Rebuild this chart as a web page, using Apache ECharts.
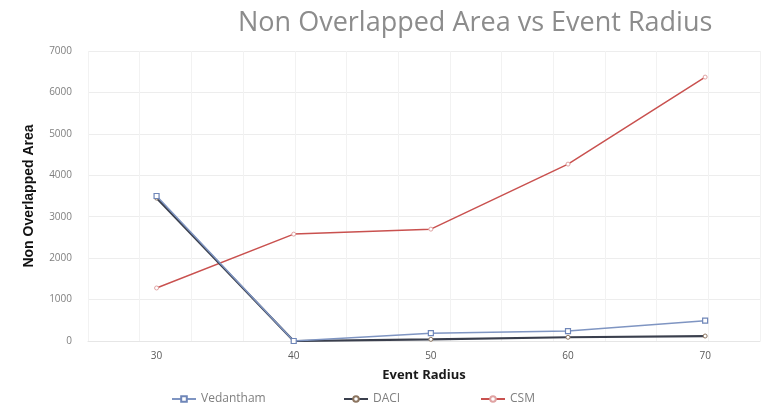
<!DOCTYPE html>
<html>
<head>
<meta charset="utf-8">
<script src="https://cdn.jsdelivr.net/npm/echarts@6/dist/echarts.min.js"></script>
<style>
  html, body { margin: 0; padding: 0; background: #ffffff; }
  #chart { width: 766px; height: 403px; }
</style>
</head>
<body>
<div id="chart"></div>
<script>
// Event radius values on the x axis
const radius = [30, 40, 50, 60, 70];
const xTicks = [30, 40, 50, 60, 70];
const yTicks = [0, 1000, 2000, 3000, 4000, 5000, 6000, 7000];

// Non overlapped area for each method
const vedantham = [3500, 0, 190, 240, 490];
const daci = [3450, 0, 40, 90, 120];
const csm = [1280, 2580, 2700, 4270, 6370];

const pair = (vals) => radius.map((r, i) => [r, vals[i]]);

const chart = echarts.init(document.getElementById('chart'));

const legendText = { color: '#7f7f7f', fontSize: 12, fontFamily: 'Open Sans' };

chart.setOption({
  backgroundColor: '#ffffff',
  animation: false,
  title: {
    text: 'Non Overlapped Area vs Event Radius',
    left: 233,
    top: 5,
    textStyle: { color: '#8c8c8c', fontSize: 27, fontWeight: 'normal', fontFamily: 'Open Sans' }
  },
  legend: [
    { data: ['Vedantham'], left: 166, top: 388, itemWidth: 24, itemHeight: 7, itemGap: 4, textStyle: legendText },
    { data: ['DACI'], left: 338, top: 388, itemWidth: 24, itemHeight: 7, textStyle: legendText },
    { data: ['CSM'], left: 475, top: 388, itemWidth: 24, itemHeight: 7, textStyle: legendText }
  ],
  grid: { left: 88, right: 6, top: 51, bottom: 62, containLabel: false },
  xAxis: [
    {
      type: 'value',
      min: 25,
      max: 74,
      name: 'Event Radius',
      nameLocation: 'middle',
      nameGap: 28,
      nameTextStyle: { color: '#1a1a1a', fontSize: 13, fontWeight: 'bold', fontFamily: 'Open Sans' },
      axisLine: { show: true, lineStyle: { color: '#e6e6e6' } },
      axisTick: { show: false },
      splitLine: { show: false },
      axisLabel: {
        customValues: xTicks,
        color: '#595959',
        fontSize: 10,
        margin: 10,
        fontFamily: 'Open Sans'
      }
    },
    {
      // faint vertical guide lines behind the data
      type: 'value',
      min: 0,
      max: 13,
      interval: 1,
      position: 'bottom',
      axisLine: { show: false },
      axisTick: { show: false },
      axisLabel: { show: false },
      splitLine: { show: true, lineStyle: { color: '#f2f2f2', width: 1 } }
    }
  ],
  yAxis: {
    type: 'value',
    min: 0,
    max: 7000,
    interval: 1000,
    name: 'Non Overlapped Area',
    nameLocation: 'middle',
    nameGap: 52,
    nameTextStyle: { color: '#111111', fontSize: 14, fontWeight: 'bold', fontFamily: 'Liberation Sans Narrow, Arial Narrow, Liberation Sans' },
    axisLine: { show: false },
    axisTick: { show: false },
    axisLabel: {
      color: '#7f7f7f',
      fontSize: 10,
      margin: 16,
      fontFamily: 'Open Sans',
      formatter: (v) => (yTicks.includes(v) ? String(v) : '')
    },
    splitLine: { show: true, lineStyle: { color: '#ededed', width: 1 } }
  },
  series: [
    {
      name: 'Vedantham',
      type: 'line',
      data: pair(vedantham),
      symbol: 'rect',
      symbolSize: 5,
      lineStyle: { color: '#7f95c2', width: 1.5 },
      itemStyle: { color: '#ffffff', borderColor: '#6f86b8', borderWidth: 1.2 },
      z: 3
    },
    {
      name: 'DACI',
      type: 'line',
      data: pair(daci),
      symbol: 'circle',
      symbolSize: 4,
      lineStyle: { color: '#3a3f4d', width: 2.2 },
      itemStyle: { color: '#ffffff', borderColor: '#8c7560', borderWidth: 1 },
      z: 2
    },
    {
      name: 'CSM',
      type: 'line',
      data: pair(csm),
      symbol: 'circle',
      symbolSize: 4,
      lineStyle: { color: '#c9514f', width: 1.5 },
      itemStyle: { color: '#ffffff', borderColor: '#e0a3a3', borderWidth: 1 },
      z: 1
    }
  ]
});
</script>
</body>
</html>
